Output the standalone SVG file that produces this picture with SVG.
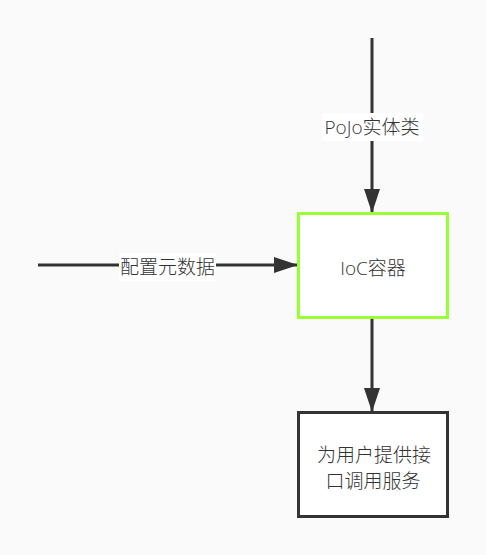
<svg xmlns="http://www.w3.org/2000/svg" width="486" height="555" viewBox="0 0 486 555">
<style>
text{font-family:"Open Sans","Noto Sans CJK SC",sans-serif;font-size:19px;font-weight:300;fill:#333;text-anchor:middle;dominant-baseline:central}
.edge{stroke:#333;stroke-width:3;fill:none}
.lbl{fill:#fff}
</style>
<defs>
<marker id="arr" markerUnits="userSpaceOnUse" markerWidth="24" markerHeight="16" viewBox="0 0 24 16" refX="24" refY="8" orient="auto">
<path d="M0,0 L24,8 L0,16 Z" fill="#333"/>
</marker>
</defs>
<rect width="486" height="555" fill="#fafafa"/>
<g id="connectors">
<path class="edge" d="M372,38 L372,213" marker-end="url(#arr)"/>
<rect class="lbl" x="322" y="113" width="101" height="28"/>
<text x="372" y="127">PoJo实体类</text>
<path class="edge" d="M38,265 L298,265" marker-end="url(#arr)"/>
<rect class="lbl" x="119" y="253" width="97" height="28"/>
<text x="167.5" y="267">配置元数据</text>
<path class="edge" d="M372,318 L372,412" marker-end="url(#arr)"/>
</g>
<g id="ioc">
<rect x="298.5" y="213.5" width="149" height="104" fill="#fff" stroke="#99ff33" stroke-width="3"/>
<text x="373" y="268">IoC容器</text>
</g>
<g id="service">
<rect x="298.5" y="412.5" width="149" height="104" fill="#fff" stroke="#333" stroke-width="3"/>
<text x="374" y="455">为用户提供接</text>
<text x="373" y="481">口调用服务</text>
</g>
</svg>
